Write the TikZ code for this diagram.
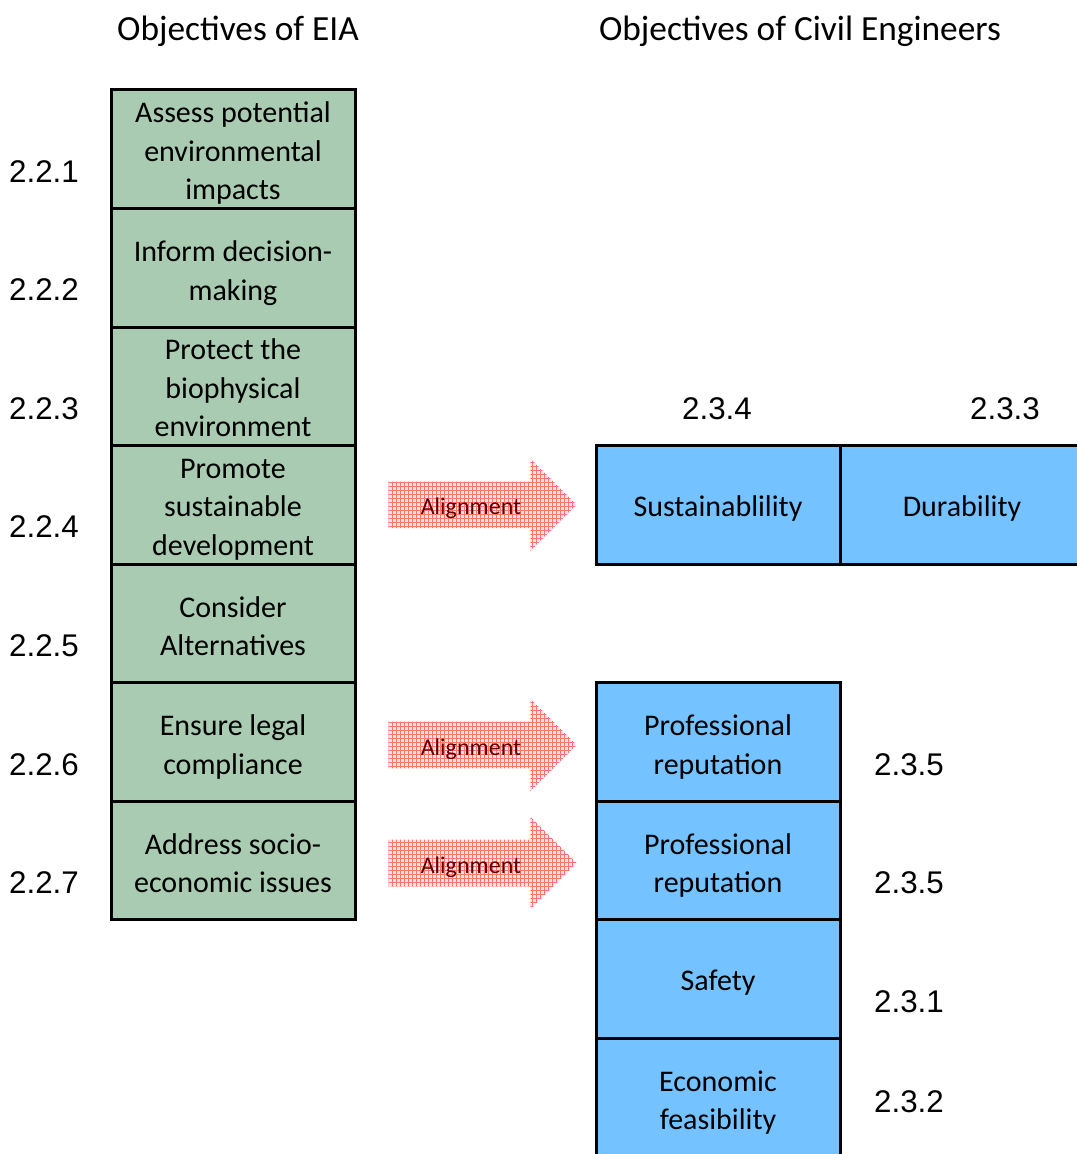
\documentclass[tikz,border=0pt]{standalone}
\usepackage{fontspec}
\setmainfont{Carlito}
\newfontfamily\numfont{Liberation Sans}
\usepackage{tikz}
\usetikzlibrary{positioning,shapes.arrows,patterns}
\definecolor{eiagreen}{RGB}{169,203,178}
\definecolor{ceblue}{RGB}{116,194,255}
\definecolor{alignred}{RGB}{90,0,0}

\begin{document}
\begin{tikzpicture}[
  x=0.75pt, y=-0.75pt,
  objbox/.style={draw, line width=2.25pt, outer sep=0pt, inner ysep=0pt,
                 align=center, minimum width=183pt, minimum height=88.9pt,
                 font=\fontsize{22.5}{29}\selectfont, text depth=5pt},
  oneline/.style={text height=22pt},
  twolines/.style={text height=53.5pt},
  threelines/.style={text height=81pt},
  eiabox/.style={objbox, fill=eiagreen},
  cebox/.style={objbox, fill=ceblue},
  numlbl/.style={font=\numfont\fontsize{23.5}{26}\selectfont},
  head/.style={font=\fontsize{26.5}{30}\selectfont},
  align arrow/.style={single arrow, draw=none, preaction={fill=red!10},
                 pattern=grid, pattern color=red!55,
                 minimum height=141pt, minimum width=69pt,
                 single arrow head extend=17.25pt, single arrow tip angle=90,
                 text height=15pt, text depth=0pt, inner ysep=9.75pt,
                 text=alignred, font=\fontsize{18}{20}\selectfont}
]
\useasboundingbox (0,0) rectangle (1076,1154);

% headings
\node[head] (hEIA) at (238,31) {Objectives of EIA};
\node[head] (hCE)  at (800,31) {Objectives of Civil Engineers};

% EIA objectives
\node[eiabox,threelines] (e1) at (233,149.25) {Assess potential\\environmental\\impacts};
\node[eiabox,twolines,below=0pt of e1] (e2) {Inform decision-\\making};
\node[eiabox,threelines,below=0pt of e2] (e3) {Protect the\\biophysical\\environment};
\node[eiabox,threelines,below=0pt of e3] (e4) {Promote\\sustainable\\development};
\node[eiabox,twolines,below=0pt of e4] (e5) {Consider\\Alternatives};
\node[eiabox,twolines,below=0pt of e5] (e6) {Ensure legal\\compliance};
\node[eiabox,twolines,below=0pt of e6] (e7) {Address socio-\\economic issues};

% civil engineering objectives
\node[cebox,oneline] (sust) at (718,0 |- e4) {Sustainablility};
\node[cebox,oneline,right=0pt of sust] (dura) {Durability};
\node[cebox,twolines] (prof1) at (718,0 |- e6) {Professional\\reputation};
\node[cebox,twolines,below=0pt of prof1] (prof2) {Professional\\reputation};
\node[cebox,oneline,below=0pt of prof2] (safe) {Safety};
\node[cebox,twolines,below=0pt of safe] (econ) {Economic\\feasibility};

% section numbers
\node[numlbl] (n1) at (44,172) {2.2.1};
\node[numlbl] (n2) at (44,290) {2.2.2};
\node[numlbl] (n3) at (44,409) {2.2.3};
\node[numlbl] (n4) at (44,527) {2.2.4};
\node[numlbl] (n5) at (44,646) {2.2.5};
\node[numlbl] (n6) at (44,765) {2.2.6};
\node[numlbl] (n7) at (44,883) {2.2.7};
\node[numlbl] (m4) at (717,409) {2.3.4};
\node[numlbl] (m3) at (1005,409) {2.3.3};
\node[numlbl] (m5a) at (909,765) {2.3.5};
\node[numlbl] (m5b) at (909,883) {2.3.5};
\node[numlbl] (m1) at (909,1002) {2.3.1};
\node[numlbl] (m2) at (909,1102) {2.3.2};

% alignment arrows
\node[align arrow] (a1) at (471,0 |- e4) {Alignment};
\node[align arrow] (a2) at (471,745) {Alignment};
\node[align arrow] (a3) at (471,863) {Alignment};
\end{tikzpicture}
\end{document}
